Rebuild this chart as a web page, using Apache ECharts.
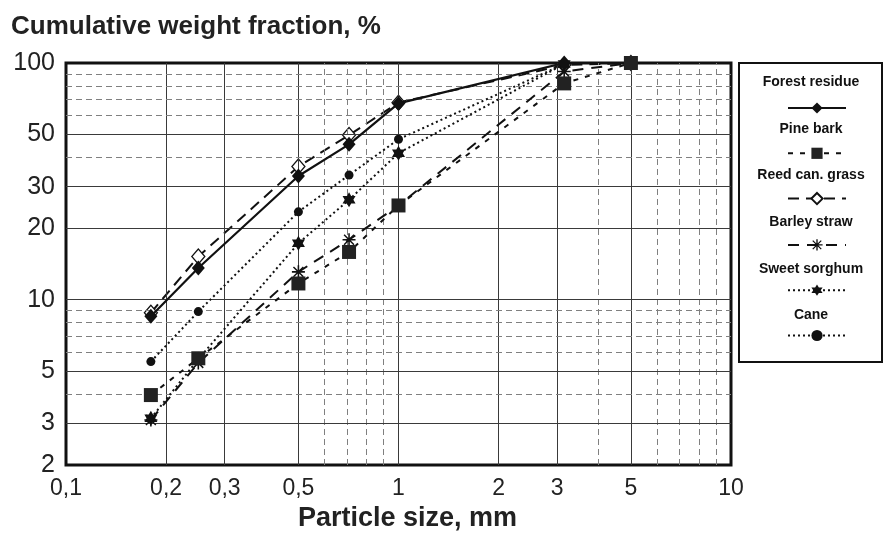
<!DOCTYPE html>
<html>
<head>
<meta charset="utf-8">
<script src="https://cdn.jsdelivr.net/npm/echarts@6/dist/echarts.min.js"></script>
<style>
html,body{margin:0;padding:0;background:#fff;}
#chart{width:885px;height:535px;}
</style>
</head>
<body>
<div id="chart"></div>
<script>
// ---- data ----
const particleSize = [0.18, 0.25, 0.5, 0.71, 1.0, 3.15, 5];
const forestResidue = [8.5, 13.6, 33.3, 45.3, 67.5, 100, null];
const pineBark = [3.95, 5.65, 11.7, 15.9, 25, 82, 100];
const reedCanGrass = [8.8, 15.2, 36.5, 49.6, 68, 98, 100];
const barleyStraw = [3.1, 5.4, 13.1, 17.9, 25, 92, 100];
const sweetSorghum = [3.15, 5.6, 17.3, 26.4, 41.6, 99, null];
const cane = [5.47, 8.9, 23.5, 33.6, 47.6, 99, null];
const seriesNames = ['Forest residue', 'Pine bark', 'Reed can. grass', 'Barley straw', 'Sweet sorghum', 'Cane'];

const xTickLabels = [0.1, 0.2, 0.3, 0.5, 1, 2, 3, 5, 10];
const yTickLabels = [2, 3, 5, 10, 20, 30, 50, 100];
const xMajorGrid = [0.2, 0.3, 0.5, 1, 2, 3, 5];
const xMinorGrid = [0.6, 0.7, 0.8, 0.9, 4, 6, 7, 8, 9];
const yMajorGrid = [3, 5, 10, 20, 30, 50];
const yMinorGrid = [4, 6, 7, 8, 9, 40, 60, 70, 80, 90];

// ---- styles ----
const FONT = '"Liberation Sans", Arial, Helvetica, sans-serif';
const starPath = 'path://M10,0L12.887,5L18.66,5L15.774,10L18.66,15L12.887,15L10,20L7.113,15L1.34,15L4.226,10L1.34,5L7.113,5Z';
const asteriskPath = 'path://M0,4.4L10,4.4L10,5.6L0,5.6ZM4.4,0L5.6,0L5.6,10L4.4,10ZM0.8,1.6L1.6,0.8L9.2,8.4L8.4,9.2ZM8.4,0.8L9.2,1.6L1.6,9.2L0.8,8.4Z';

function pairs(ys) {
  return particleSize.map((x, i) => [x, ys[i]]).filter(p => p[1] !== null);
}

const seriesDefs = [
  {name: seriesNames[0], values: forestResidue, symbol: 'diamond', symbolSize: [13, 15], line: {type: 'solid', width: 2.2}, item: {color: '#111'}, z: 8},
  {name: seriesNames[1], values: pineBark, symbol: 'rect', symbolSize: 14, line: {type: [5, 7], width: 2}, item: {color: '#222'}, z: 9},
  {name: seriesNames[2], values: reedCanGrass, symbol: 'diamond', symbolSize: [13, 15], line: {type: [11, 7], width: 2}, item: {color: '#fff', borderColor: '#111', borderWidth: 1.3}, z: 4},
  {name: seriesNames[3], values: barleyStraw, symbol: asteriskPath, symbolSize: 13, line: {type: [11, 8], width: 2}, item: {color: '#111'}, z: 5},
  {name: seriesNames[4], values: sweetSorghum, symbol: starPath, symbolSize: 15, line: {type: [2, 3], width: 2}, item: {color: '#111'}, z: 6},
  {name: seriesNames[5], values: cane, symbol: 'circle', symbolSize: 9, line: {type: [2, 3], width: 2}, item: {color: '#111'}, z: 7}
];

const series = seriesDefs.map(d => ({
  name: d.name,
  type: 'line',
  data: pairs(d.values),
  symbol: d.symbol,
  symbolSize: d.symbolSize,
  symbolKeepAspect: true,
  showAllSymbol: true,
  lineStyle: Object.assign({color: '#111'}, d.line),
  itemStyle: d.item,
  z: d.z
}));

const majorStyle = {type: 'solid', color: '#3a3a3a', width: 1};
const minorStyle = {type: [6, 4], color: '#808080', width: 1};
const gridData = []
  .concat(xMajorGrid.map(v => ({xAxis: v, lineStyle: majorStyle})))
  .concat(xMinorGrid.map(v => ({xAxis: v, lineStyle: minorStyle})))
  .concat(yMajorGrid.map(v => ({yAxis: v, lineStyle: majorStyle})))
  .concat(yMinorGrid.map(v => ({yAxis: v, lineStyle: minorStyle})));

series.unshift({
  name: '_grid',
  type: 'line',
  data: [],
  silent: true,
  z: 1,
  markLine: {
    silent: true,
    symbol: ['none', 'none'],
    label: {show: false},
    animation: false,
    data: gridData
  }
});

const legendLeft = 782, legendTop = 96, legendRow = 46.7;
const graphics = [
  {type: 'rect', shape: {x: 739, y: 63, width: 143, height: 299}, style: {fill: 'none', stroke: '#111', lineWidth: 2}, z: 10}
].concat(seriesNames.map((n, i) => ({
  type: 'text', x: 811, y: 82 + i * legendRow, z: 10,
  style: {text: n, font: 'bold 14px ' + FONT, fill: '#111', align: 'center', verticalAlign: 'middle'}
})));

const chart = echarts.init(document.getElementById('chart'), null, {renderer: 'canvas'});
chart.setOption({
  animation: false,
  backgroundColor: '#fff',
  title: {
    text: 'Cumulative weight fraction, %',
    left: 6, top: 9,
    textStyle: {fontFamily: FONT, fontWeight: 'bold', fontSize: 26, color: '#222'}
  },
  grid: {
    left: 66, right: 154, top: 63, bottom: 70,
    containLabel: false, outerBoundsMode: 'none',
    show: true, borderColor: '#111', borderWidth: 3, backgroundColor: 'transparent'
  },
  xAxis: {
    type: 'log', logBase: 10, min: 0.1, max: 10,
    name: 'Particle size, mm', nameLocation: 'middle', nameGap: 36,
    nameTextStyle: {fontFamily: FONT, fontWeight: 'bold', fontSize: 27, color: '#222', padding: [0, 0, 0, 18]},
    axisLine: {show: false}, axisTick: {show: false}, splitLine: {show: false},
    axisLabel: {
      customValues: xTickLabels, margin: 12,
      fontFamily: FONT, fontSize: 23, color: '#222',
      formatter: v => String(v).replace('.', ',')
    }
  },
  yAxis: {
    type: 'log', logBase: 10, min: 2, max: 100,
    axisLine: {show: false}, axisTick: {show: false}, splitLine: {show: false},
    axisLabel: {
      customValues: yTickLabels, margin: 11,
      fontFamily: FONT, fontSize: 25, color: '#222',
      formatter: v => String(v)
    }
  },
  legend: {
    data: seriesNames,
    orient: 'vertical', left: legendLeft, top: legendTop,
    itemWidth: 58, itemHeight: 14, itemGap: legendRow - 14,
    formatter: () => '',
    selectedMode: false,
    textStyle: {fontSize: 1}
  },
  graphic: graphics,
  series: series
});
</script>
</body>
</html>
